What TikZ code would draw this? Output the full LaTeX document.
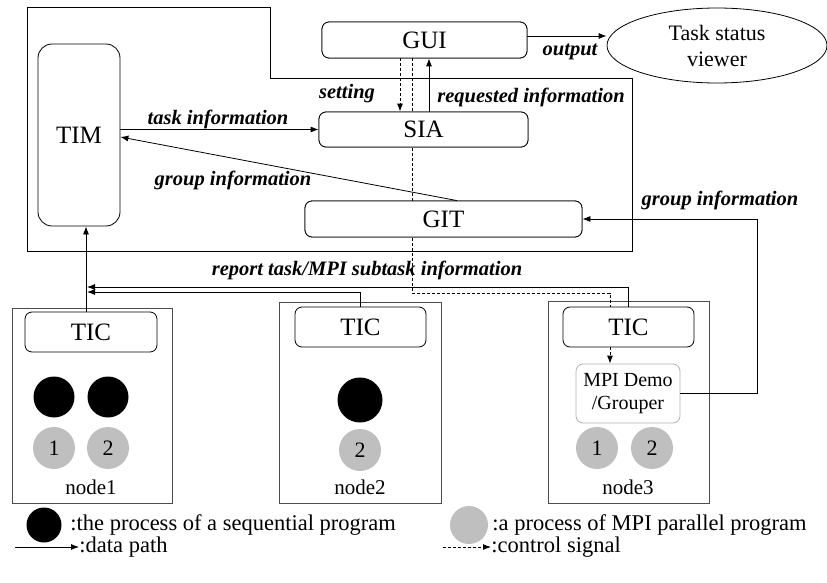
\documentclass[tikz,border=0pt]{standalone}
\usepackage{fontspec}
\setmainfont{Liberation Serif}
\usetikzlibrary{arrows.meta,shapes.geometric}
\begin{document}
\begin{tikzpicture}[x=1pt,y=-1pt,line width=0.8pt,
  box/.style={draw, rounded corners=7pt, fill=white, inner sep=0pt, font=\fontsize{25}{27}\selectfont},
  nodebox/.style={draw=black!70, fill=none, inner sep=0pt},
  lbl/.style={font=\fontsize{20.5}{22}\selectfont\bfseries\itshape, inner sep=1pt},
  txt/.style={font=\fontsize{21}{23}\selectfont, inner sep=0pt},
  leg/.style={font=\fontsize{22.5}{24}\selectfont, inner sep=0pt},
  arr/.style={-{Latex[length=8pt,width=6pt]}},
  ctl/.style={dash pattern=on 3pt off 2pt, line width=0.9pt},
  blk/.style={circle, fill=black, inner sep=0pt},
  gry/.style={circle, fill=black!25, inner sep=0pt, font=\fontsize{22}{24}\selectfont}]
\useasboundingbox (0,0) rectangle (827,583);

% helper coordinates
\coordinate (xa) at (400,0);
\coordinate (xb) at (412,0);
\coordinate (xc) at (429,0);
\coordinate (xd) at (610,0);
\coordinate (xg) at (457,0);
\coordinate (xr) at (757,0);
\coordinate (xe) at (87,0);
\coordinate (xt) at (86,0);
\coordinate (ye) at (0,293);
\coordinate (yo) at (0,36);
\coordinate (yg) at (0,137);
\coordinate (y1) at (0,287);
\coordinate (y2) at (0,292);

% outer frame
\draw (27,7) -- (270,7) -- (270,78) -- (632,78) -- (632,251) -- (27,251) -- cycle;

% node boxes
\node[nodebox, minimum width=160pt, minimum height=195pt] (n1box) at (92,405.5) {};
\node[nodebox, minimum width=162pt, minimum height=201pt] (n2box) at (360,402.5) {};
\node[nodebox, minimum width=161pt, minimum height=202pt] (n3box) at (628.5,402) {};

% box positions
\path (424.5,40) coordinate (pGUI) (423.5,129.5) coordinate (pSIA) (443.5,219) coordinate (pGIT);
\node[box, minimum width=205pt, minimum height=36pt] (GUI) at (pGUI) {};
\node[box, minimum width=209pt, minimum height=35pt] (SIA) at (pSIA) {};
\node[box, minimum width=277pt, minimum height=36pt] (GIT) at (pGIT) {};

% control line behind boxes
\draw[ctl] (GUI.south -| xb) -- (xb |- ye) -- (xd |- ye) -- (610,307);

% boxes on top
\node[box, minimum width=205pt, minimum height=36pt] (GUI) at (pGUI) {GUI};
\node[box, minimum width=209pt, minimum height=35pt] (SIA) at (pSIA) {SIA};
\node[box, minimum width=277pt, minimum height=36pt] (GIT) at (pGIT) {GIT};
\node[box, rounded corners=14pt, minimum width=82pt, minimum height=182pt] (TIM) at (79,135) {TIM};
\node[draw, ellipse, minimum width=220pt, minimum height=75pt, inner sep=0pt, align=center,
      font=\fontsize{22}{26}\selectfont] (TSV) at (717,45.5) {Task status\\viewer};

\node[box, minimum width=132pt, minimum height=40pt] (TIC1) at (91,332) {TIC};
\node[box, minimum width=131pt, minimum height=40pt] (TIC2) at (360.5,327) {TIC};
\node[box, minimum width=131pt, minimum height=40pt] (TIC3) at (628.5,327) {TIC};
\node[draw=black!30, rounded corners=7pt, fill=white, minimum width=104pt, minimum height=59pt,
      inner sep=0pt, align=center, font=\fontsize{20}{23}\selectfont] (MPI) at (628,393.5) {MPI Demo\\/Grouper};

% processes
\node[blk, minimum size=41pt] (b11) at (54,397) {};
\node[blk, minimum size=41pt] (b12) at (108,397) {};
\node[gry, minimum size=42pt] (g11) at (54,448) {1};
\node[gry, minimum size=42pt] (g12) at (108,448) {2};
\node[txt] (l1) at (91,487) {node1};

\node[blk, minimum size=45pt] (b21) at (360,400) {};
\node[gry, minimum size=42pt] (g22) at (360,450) {2};
\node[txt] (l2) at (360,487) {node2};

\node[gry, minimum size=42pt] (g31) at (597,448) {1};
\node[gry, minimum size=42pt] (g32) at (652,448) {2};
\node[txt] (l3) at (628,487) {node3};

% connectors
\draw[ctl, arr] (GUI.south -| xa) -- (SIA.north -| xa);
\draw[arr] (SIA.north -| xc) -- (GUI.south -| xc);
\draw[arr] (GUI.east |- yo) -- (TSV.west |- yo);
\draw[arr] (TIM.east |- SIA.west) -- (SIA.west);
\draw[arr] (GIT.north -| xg) -- (TIM.east |- yg);
\draw[arr] (MPI.east) -- (xr |- MPI.east) -- (xr |- GIT.east) -- (GIT.east);
\draw[ctl, arr] (TIC3.south -| xd) -- (MPI.north -| xd);
\draw[arr] (TIC3.north) -- (TIC3.north |- y1) -- (xe |- y1);
\draw[arr] (TIC2.north) -- (TIC2.north |- y2) -- (xe |- y2);
\draw[arr] (TIC1.north -| xt) -- (TIM.south -| xt);

% labels
\node[lbl] (ls) at (347,94) {setting};
\node[lbl] (lr) at (531,97) {requested information};
\node[lbl] (lt) at (218,119) {task information};
\node[lbl] (lg) at (233,180) {group information};
\node[lbl] (lo) at (570,52) {output};
\node[lbl] (lg2) at (720,200) {group information};
\node[lbl] (lrep) at (367,270) {report task/MPI subtask information};

% legend
\node[blk, minimum size=35pt] (kb) at (44,525) {};
\node[leg, anchor=west] (kbt) at (70,525) {:the process of a sequential program};
\node[gry, minimum size=38pt] (kg) at (469,525) {};
\node[leg, anchor=west] (kgt) at (492,525) {:a process of MPI parallel program};
\coordinate (dps) at (15,547);
\node[leg, anchor=west] (dpt) at (79,547) {:data path};
\draw[arr] (dps) -- (dpt.west);
\coordinate (css) at (443,547);
\node[leg, anchor=west] (cst) at (491,547) {:control signal};
\draw[ctl, arr] (css) -- (cst.west);
\end{tikzpicture}
\end{document}
